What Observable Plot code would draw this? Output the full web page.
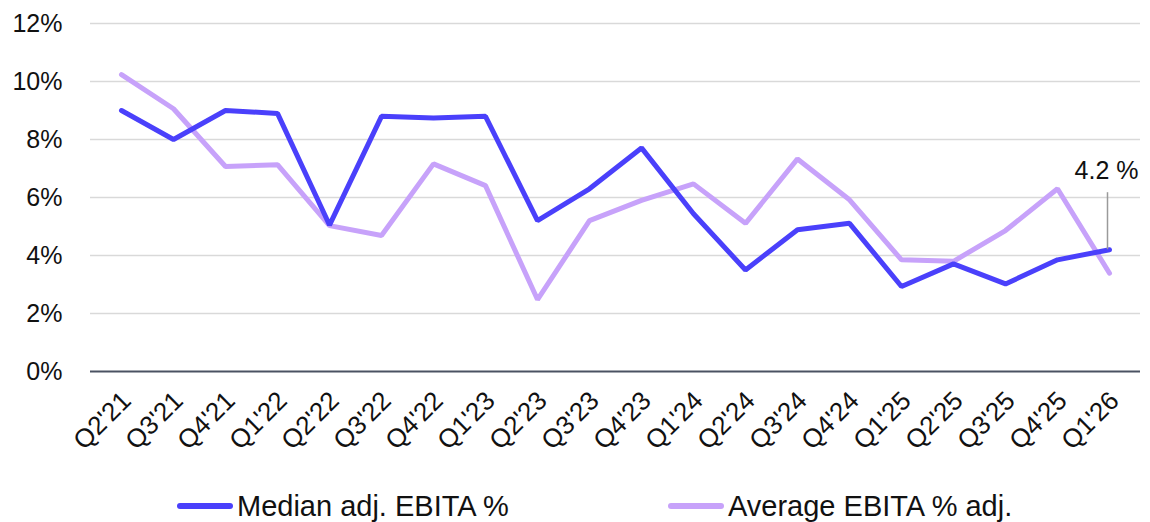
<!DOCTYPE html>
<html>
<head>
<meta charset="utf-8">
<script src="https://cdn.jsdelivr.net/npm/d3@7"></script>
<script src="https://cdn.jsdelivr.net/npm/@observablehq/plot@0.6"></script>
<style>
  html, body { margin: 0; padding: 0; background: #ffffff; }
  body { width: 1150px; height: 522px; overflow: hidden; font-family: "Liberation Sans", Arial, sans-serif; }
  #chart svg { display: block; }
  .legend { position: relative; height: 44px; font-size: 29px; color: #111; }
  .legend .item { position: absolute; top: 6px; display: flex; align-items: center; height: 44px; }
  .legend .swatch { width: 56px; height: 6px; border-radius: 3px; margin-right: 4px; }
</style>
</head>
<body>
<div id="chart"></div>
<div class="legend" id="legend"></div>
<script>
// Quarterly EBITA margins
const quarters = ["Q2'21", "Q3'21", "Q4'21", "Q1'22", "Q2'22", "Q3'22", "Q4'22", "Q1'23", "Q2'23", "Q3'23",
                  "Q4'23", "Q1'24", "Q2'24", "Q3'24", "Q4'24", "Q1'25", "Q2'25", "Q3'25", "Q4'25", "Q1'26"];
const medianEbita = [9.0, 8.0, 9.0, 8.9, 5.05, 8.8, 8.74, 8.8, 5.2, 6.3,
                     7.71, 5.44, 3.5, 4.89, 5.11, 2.93, 3.71, 3.02, 3.85, 4.2];
const averageEbita = [10.24, 9.06, 7.07, 7.13, 5.03, 4.69, 7.16, 6.41, 2.48, 5.2,
                      5.9, 6.47, 5.11, 7.33, 5.92, 3.85, 3.8, 4.86, 6.3, 3.39];
const seriesNames = ["Median adj. EBITA %", "Average EBITA % adj."];
const seriesColors = ["#4a40fb", "#c7a2fa"];
const yTicks = [0, 2, 4, 6, 8, 10, 12];
const gridTicks = [2, 4, 6, 8, 10, 12];
const callout = [{quarter: "Q1'26", value: 4.2, label: "4.2 %"}];

const rows = [];
quarters.forEach((q, i) => {
  rows.push({quarter: q, value: medianEbita[i], series: seriesNames[0]});
  rows.push({quarter: q, value: averageEbita[i], series: seriesNames[1]});
});

const chart = Plot.plot({
  width: 1150,
  height: 478,
  marginLeft: 90,
  marginRight: 10,
  marginTop: 23,
  marginBottom: 107,
  style: {fontFamily: "'Liberation Sans', Arial, sans-serif", color: "#111", background: "#fff"},
  x: {type: "point", domain: quarters, padding: 0.5, label: null},
  y: {domain: [0, 12], label: null},
  color: {domain: seriesNames, range: seriesColors},
  marks: [
    Plot.ruleY(gridTicks, {stroke: "#d9d9d9", strokeWidth: 1.5}),
    Plot.ruleY([0], {stroke: "#4b5262", strokeWidth: 2}),
    Plot.axisY(yTicks, {tickSize: 0, tickPadding: 28, fontSize: 25, tickFormat: d => d + "%", label: null}),
    Plot.axisX({tickSize: 0, tickRotate: -45, tickPadding: 25, dx: 5, fontSize: 26, label: null}),
    Plot.line(rows.filter(d => d.series === seriesNames[1]), {
      x: "quarter", y: "value", stroke: "series", strokeWidth: 5, strokeLinejoin: "miter", strokeLinecap: "round"
    }),
    Plot.line(rows.filter(d => d.series === seriesNames[0]), {
      x: "quarter", y: "value", stroke: "series", strokeWidth: 5, strokeLinejoin: "miter", strokeLinecap: "round"
    }),
    Plot.ruleX(callout, {x: "quarter", y1: "value", y2: "value", insetTop: -57, dx: -2, stroke: "#9a9a9a", strokeWidth: 1.5}),
    Plot.text(callout, {x: "quarter", y: "value", text: "label", textAnchor: "end", dx: 29, dy: -79, fontSize: 25, fill: "#111"})
  ]
});
document.getElementById("chart").appendChild(chart);

// Legend below the plot
const legend = document.getElementById("legend");
const legendLeft = [177, 668];
seriesNames.forEach((name, i) => {
  const item = document.createElement("div");
  item.className = "item";
  item.style.left = legendLeft[i] + "px";
  const sw = document.createElement("span");
  sw.className = "swatch";
  sw.style.background = seriesColors[i];
  const label = document.createElement("span");
  label.textContent = name;
  item.appendChild(sw);
  item.appendChild(label);
  legend.appendChild(item);
});
</script>
</body>
</html>
